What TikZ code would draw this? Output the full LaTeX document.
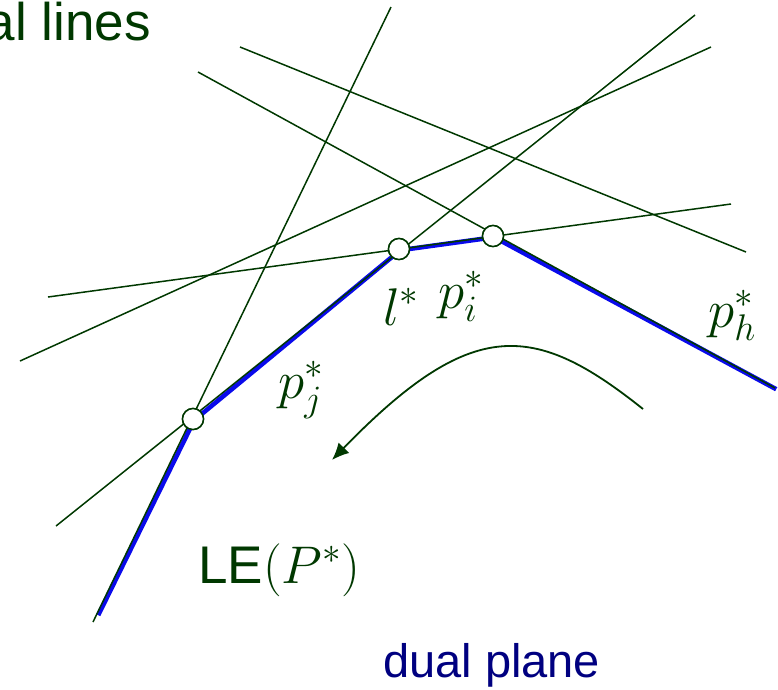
\RequirePackage{fix-cm}
\documentclass[tikz,border=0pt]{standalone}
\usepackage{fontspec}
\setmainfont{Liberation Sans}
\usetikzlibrary{arrows.meta}
\definecolor{dg}{RGB}{0,56,0}
\definecolor{lepath}{RGB}{10,10,235}
\definecolor{navy}{RGB}{0,0,128}

\begin{document}
\begin{tikzpicture}[
    x=1pt, y=-1pt,
    dualline/.style={draw=dg, line width=1.5pt},
    envelope/.style={draw=lepath, line width=4.6pt, line join=round,
        transform canvas={shift={(1.2pt,-1.2pt)}}},
    vertex/.style={
        circle, draw=dg, line width=1.5pt, fill=white,
        minimum size=21pt, inner sep=0pt
    },
    lab/.style={text=dg, font=\fontsize{53}{60}\selectfont, inner sep=0pt},
    sweep/.style={-{Latex[length=17pt,width=15pt]}, draw=dg, line width=1.8pt}
]
\clip (0,0) rectangle (778,689);

% Line end points
\coordinate (a1) at (391,7);   \coordinate (b1) at (93,622);
\coordinate (a2) at (240,47);  \coordinate (b2) at (746,252);
\coordinate (a3) at (198,72);  \coordinate (b3) at (775,388);
\coordinate (a4) at (20,361);  \coordinate (b4) at (711,47);
\coordinate (a5) at (48,297);  \coordinate (b5) at (731,204);
\coordinate (a6) at (56,526);  \coordinate (b6) at (695,15);
\coordinate (lowEnd) at (97,614);

% Vertices of the lower envelope
\node[vertex] (pj) at (193,419) {};
\node[vertex] (lv) at (399,249) {};
\node[vertex] (pi) at (493,236) {};

% ── LE(P*) chain ────────────────────────────────────────────
\draw[envelope] (lowEnd) -- (pj.center) -- (lv.center) -- (pi.center) -- (b3);

% ── dual lines ──────────────────────────────────────────────
\foreach \n in {1,...,6} {
  \draw[dualline] (a\n) -- (b\n);
}

% circles again on top of the lines
\node[vertex] at (pj) {};
\node[vertex] at (lv) {};
\node[vertex] at (pi) {};

% ── sweep arrow ─────────────────────────────────────────────
\coordinate (sweepA) at (643,409);
\coordinate (sweepB) at (332,460);
\draw[sweep] (sweepA) .. controls (534,322) and (472,316) .. (sweepB);

% ── Labels ──────────────────────────────────────────────────
\node[lab, anchor=base east] (title) at (151,40) {dual lines};
\node[lab, anchor=base west] (llab) at (383,325) {$l^*$};
\node[lab, anchor=base west] (pilab) at (438,308) {$p_i^*$};
\node[lab, anchor=base west] (phlab) at (708,327) {$p_h^*$};
\node[lab, anchor=base west] (pjlab) at (278,398) {$p_j^*$};
\node[lab, anchor=base west] (lelab) at (198,583) {LE$(P^*)$};
\node[lab, anchor=base west, text=navy, font=\fontsize{47}{54}\selectfont] (plane) at (383,677) {dual plane};

\end{tikzpicture}
\end{document}
